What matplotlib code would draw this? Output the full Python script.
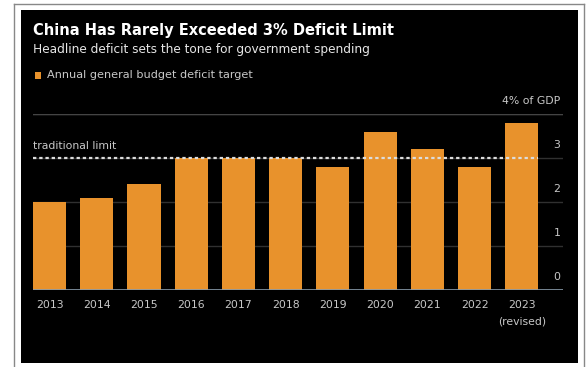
import matplotlib.pyplot as plt
from matplotlib.patches import Rectangle
from matplotlib.lines import Line2D
import matplotlib.transforms as mtransforms

years = ["2013", "2014", "2015", "2016", "2017", "2018", "2019", "2020", "2021", "2022", "2023\n(revised)"]
deficit = [2.0, 2.1, 2.4, 3.0, 3.0, 3.0, 2.8, 3.6, 3.2, 2.8, 3.8]
y_ticks = [0, 1, 2, 3, 4]
y_tick_labels = ["0", "1", "2", "3", "4% of GDP"]
limit = 3.0

ORANGE = "#e8922c"
TEXT = "#c8c8c8"
W, H = 587, 367

plt.rcParams['font.family'] = ['DejaVu Sans']

fig = plt.figure(figsize=(W / 100, H / 100), dpi=100, facecolor="white")

# outer frame and black panel (pixel coords, origin top-left)
def px(x, y):
    return x / W, 1 - y / H

fig.add_artist(Line2D([14 / W, 14 / W], [0, 1 - 4 / H], color="#888888", lw=1, zorder=-2))
fig.add_artist(Line2D([584 / W, 584 / W], [0, 1 - 4 / H], color="#888888", lw=1, zorder=-2))
fig.add_artist(Line2D([14 / W, 584 / W], [1 - 4 / H, 1 - 4 / H], color="#888888", lw=1, zorder=-2))
fig.add_artist(Rectangle((21 / W, 1 - 363 / H), (578 - 21) / W, (363 - 10) / H,
                         transform=fig.transFigure, facecolor="black", edgecolor="none",
                         zorder=-1))

# titles and legend
fig.text(*px(33, 31), "China Has Rarely Exceeded 3% Deficit Limit", color="white",
         fontsize=10.5, fontweight="bold", va="center", ha="left")
fig.text(*px(33, 49), "Headline deficit sets the tone for government spending", color="#e6e6e6",
         fontsize=8.7, va="center", ha="left")
fig.add_artist(Rectangle(px(35, 79), 6 / W, 7 / H, transform=fig.transFigure,
                         facecolor=ORANGE, edgecolor="none"))
fig.text(*px(47, 75), "Annual general budget deficit target", color=TEXT,
         fontsize=8.1, va="center", ha="left")

ax = fig.add_axes([33 / W, 1 - 290 / H, (563 - 33) / W, (290 - 114) / H])
ax.set_facecolor("black")
ax.patch.set_alpha(0)

x = list(range(len(years)))
ax.bar(x, deficit, width=0.7, color=ORANGE, zorder=2)

for t in y_ticks[1:]:
    ax.axhline(t, color="#303030", lw=1, zorder=1)
ax.axhline(4, color="#444444", lw=1, zorder=1)
ax.axhline(0, color="#8a9bab", lw=1.2, zorder=3)

ax.plot([-0.35, len(years) - 1 + 0.35], [limit, limit], color="#dcdcdc", lw=1.6,
        linestyle=(0, (1.5, 1.3)), zorder=4)
ax.text(-0.35, limit + 0.16, "traditional limit", color=TEXT, fontsize=7.8,
        va="bottom", ha="left")

# value labels sit just above their gridlines on the right
offset = mtransforms.offset_copy(ax.get_yaxis_transform(), fig=fig, x=-2, y=5.5, units="points")
for t, lab in zip(y_ticks, y_tick_labels):
    ax.text(1.0, t, lab, color=TEXT, fontsize=7.8, ha="right", va="bottom", transform=offset)

ax.set_xlim(-0.35, 10.87)
ax.set_ylim(0, 4)
ax.set_xticks(x)
ax.set_xticklabels(years, color=TEXT, fontsize=7.8, linespacing=1.9, va="top")
ax.tick_params(axis="x", length=0, pad=7)
ax.set_yticks([])
for s in ax.spines.values():
    s.set_visible(False)

fig.savefig("out.png", dpi=100, facecolor="white")
